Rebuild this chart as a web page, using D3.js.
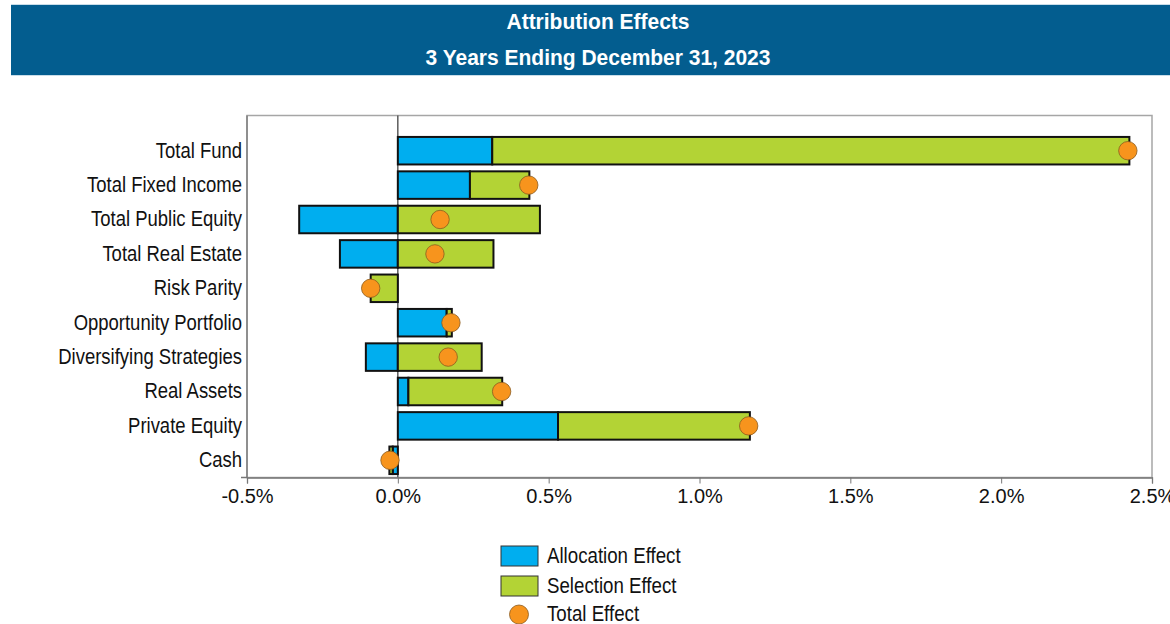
<!DOCTYPE html>
<html>
<head>
<meta charset="utf-8">
<script src="https://cdn.jsdelivr.net/npm/d3@7"></script>
<style>
  html, body { margin: 0; padding: 0; background: #fff; }
  svg { display: block; font-family: "Liberation Sans", Arial, sans-serif; }
</style>
</head>
<body>
<svg id="chart" width="1170" height="624"></svg>
<script>
// Attribution effects by portfolio segment, in percent
const categories = [
  "Total Fund", "Total Fixed Income", "Total Public Equity", "Total Real Estate",
  "Risk Parity", "Opportunity Portfolio", "Diversifying Strategies",
  "Real Assets", "Private Equity", "Cash"
];
const allocationEffect = [0.313, 0.239, -0.327, -0.192, 0.000, 0.162, -0.106, 0.035, 0.531, -0.017];
const selectionEffect  = [2.112, 0.197, 0.471, 0.317, -0.090, 0.017, 0.278, 0.311, 0.636, -0.011];
const totalEffect      = [2.420, 0.434, 0.140, 0.123, -0.090, 0.176, 0.167, 0.344, 1.163, -0.026];
const xTicks = [-0.5, 0.0, 0.5, 1.0, 1.5, 2.0, 2.5];
const seriesNames = ["Allocation Effect", "Selection Effect", "Total Effect"];

const colors = { alloc: "#00aeef", sel: "#b3d335", total: "#f7941d" };

const svg = d3.select("#chart");

// Header band
svg.append("rect").attr("x", 11).attr("y", 4).attr("width", 1170).attr("height", 72)
  .attr("fill", "#c9dde9");
svg.append("rect").attr("x", 11).attr("y", 5).attr("width", 1170).attr("height", 70)
  .attr("fill", "#035d8f");
svg.append("text").attr("transform", "translate(598,29) scale(1,1.06)").attr("text-anchor", "middle")
  .attr("fill", "#fff").attr("font-weight", "bold").attr("font-size", 21)
  .text("Attribution Effects");
svg.append("text").attr("transform", "translate(598,65) scale(1,1.06)").attr("text-anchor", "middle")
  .attr("fill", "#fff").attr("font-weight", "bold").attr("font-size", 21)
  .text("3 Years Ending December 31, 2023");

// Plot geometry
const plotLeft = 247, plotRight = 1152, plotTop = 115.5, plotBottom = 477.5;

const x = d3.scaleLinear().domain([-0.5, 2.5]).range([plotLeft, plotRight]);
const y = d3.scaleBand().domain(categories).range([133.5, plotBottom])
  .paddingInner(0.2).paddingOuter(0.1);

// Frame
svg.append("rect").attr("x", plotLeft).attr("y", plotTop)
  .attr("width", plotRight - plotLeft).attr("height", plotBottom - plotTop)
  .attr("fill", "none").attr("stroke", "#a6a6a6").attr("stroke-width", 1.5);

// Zero line
svg.append("line").attr("x1", x(0)).attr("x2", x(0)).attr("y1", plotTop).attr("y2", plotBottom)
  .attr("stroke", "#444").attr("stroke-width", 1.3);

// Stacked bars (diverging)
const rows = categories.map((c, i) => ({ cat: c, alloc: allocationEffect[i], sel: selectionEffect[i] }));
const stack = d3.stack().keys(["alloc", "sel"]).offset(d3.stackOffsetDiverging);
const layers = stack(rows);

svg.append("g").selectAll("g").data(layers).join("g")
  .attr("fill", d => colors[d.key])
  .selectAll("rect").data(d => d.filter(s => s[0] !== s[1])).join("rect")
  .attr("x", d => x(Math.min(d[0], d[1])))
  .attr("y", d => y(d.data.cat))
  .attr("width", d => Math.abs(x(d[1]) - x(d[0])))
  .attr("height", y.bandwidth())
  .attr("stroke", "#111").attr("stroke-width", 2);

// Total effect markers
svg.append("g").selectAll("circle").data(categories).join("circle")
  .attr("cx", (c, i) => x(totalEffect[i]))
  .attr("cy", c => y(c) + y.bandwidth() / 2)
  .attr("r", 9.2)
  .attr("fill", colors.total).attr("stroke", "#8a5a1e").attr("stroke-width", 0.8);

// Axes
const xAxis = svg.append("g").attr("transform", `translate(0,${plotBottom})`)
  .call(d3.axisBottom(x).tickValues(xTicks).tickSize(6).tickPadding(5)
    .tickFormat(d => d.toFixed(1) + "%"));
xAxis.select(".domain").attr("stroke", "#777").attr("stroke-width", 1.3);
xAxis.selectAll(".tick line").attr("stroke", "#777");
xAxis.selectAll(".tick text").attr("font-size", 20).attr("fill", "#111")
  .attr("font-family", "'Liberation Sans', Arial, sans-serif");

const yAxis = svg.append("g").attr("transform", `translate(${plotLeft},0)`)
  .call(d3.axisLeft(y).tickSize(0).tickPadding(0));
yAxis.select(".domain").attr("stroke", "#777").attr("stroke-width", 1.3)
  .attr("d", `M0,${plotTop}V${plotBottom}H-6`);
yAxis.selectAll(".tick text").remove();
yAxis.selectAll(".tick").append("text")
  .attr("transform", "translate(-5,-1) scale(0.86,1.03)")
  .attr("text-anchor", "end").attr("dy", "0.36em")
  .attr("font-size", 21.5).attr("fill", "#111")
  .attr("font-family", "'Liberation Sans', Arial, sans-serif")
  .text(d => d);

// Legend
const legend = svg.append("g");
const legendRows = [
  { name: seriesNames[0], type: "rect", color: colors.alloc, cy: 556 },
  { name: seriesNames[1], type: "rect", color: colors.sel, cy: 586 },
  { name: seriesNames[2], type: "circle", color: colors.total, cy: 614.5 }
];
legendRows.forEach(r => {
  if (r.type === "rect") {
    legend.append("rect").attr("x", 501).attr("y", r.cy - 10).attr("width", 37).attr("height", 20)
      .attr("fill", r.color).attr("stroke", "#333").attr("stroke-width", 1);
  } else {
    legend.append("circle").attr("cx", 519).attr("cy", r.cy).attr("r", 9.5)
      .attr("fill", r.color).attr("stroke", "#8a5a1e").attr("stroke-width", 0.8);
  }
  legend.append("text")
    .attr("transform", `translate(547,${r.cy - 1}) scale(0.89,1.03)`)
    .attr("dy", "0.36em").attr("font-size", 21).attr("fill", "#111")
    .text(r.name);
});
</script>
</body>
</html>
